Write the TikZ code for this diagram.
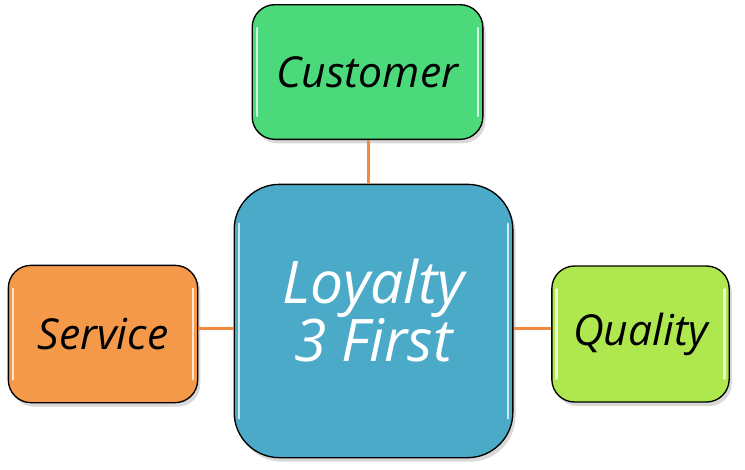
\documentclass[tikz,border=0pt]{standalone}
\usepackage{fontspec}
\setmainfont{Open Sans}
\usetikzlibrary{shadows}
\definecolor{custc}{HTML}{4CD97B}
\definecolor{hubc}{HTML}{4BAAC8}
\definecolor{servc}{HTML}{F4994A}
\definecolor{qualc}{HTML}{AEE84E}
\definecolor{linkc}{HTML}{F08A3C}

\begin{document}
\begin{tikzpicture}[x=0.75pt, y=-0.75pt,
      box/.style={draw=black, line width=1pt, rounded corners=17pt, align=center,
                  inner sep=0pt, font=\fontsize{32}{34}\selectfont\itshape,
                  drop shadow={shadow xshift=2pt, shadow yshift=-3pt, opacity=0.3}},
      hub/.style={box, rounded corners=34pt, text=white,
                  font=\fontsize{44}{43}\selectfont\itshape},
      gloss/.style={white, opacity=0.75, line width=1.8pt, line cap=round},
      link/.style={linkc, line width=2.2pt}]
    \useasboundingbox (0,0) rectangle (745,469);
    \node[box, fill=custc, minimum width=173pt, minimum height=101pt] (cust)
      at (367.5,72) {Customer};
    \node[hub, fill=hubc, minimum width=209pt, minimum height=205pt] (core)
      at (373.5,321) {Loyalty\\3 First\\[-27pt]};
    \node[box, fill=servc, minimum width=142pt, minimum height=103pt] (serv)
      at (103,334) {Service};
    \node[box, fill=qualc, minimum width=133pt, minimum height=102pt] (qual)
      at (640.5,334) {Quality};
    % glossy edges
    \draw[gloss] ([xshift=4pt, yshift=-18pt]cust.north west) -- ([xshift=4pt, yshift=18pt]cust.south west);
    \draw[gloss] ([xshift=-4pt, yshift=-18pt]cust.north east) -- ([xshift=-4pt, yshift=18pt]cust.south east);
    \draw[gloss] ([xshift=4pt, yshift=-30pt]core.north west) -- ([xshift=4pt, yshift=30pt]core.south west);
    \draw[gloss] ([xshift=-4pt, yshift=-30pt]core.north east) -- ([xshift=-4pt, yshift=30pt]core.south east);
    \draw[gloss] ([xshift=4pt, yshift=-18pt]serv.north west) -- ([xshift=4pt, yshift=18pt]serv.south west);
    \draw[gloss] ([xshift=-4pt, yshift=-18pt]serv.north east) -- ([xshift=-4pt, yshift=18pt]serv.south east);
    \draw[gloss] ([xshift=4pt, yshift=-18pt]qual.north west) -- ([xshift=4pt, yshift=18pt]qual.south west);
    \draw[gloss] ([xshift=-4pt, yshift=-18pt]qual.north east) -- ([xshift=-4pt, yshift=18pt]qual.south east);
    % links
    \draw[link] ([xshift=1pt]cust.south) -- ([xshift=1pt]cust.south |- core.north);
    \draw[link] ([yshift=4pt]serv.east) -- ([yshift=4pt]serv.east -| core.west);
    \draw[link] ([yshift=4pt]qual.west) -- ([yshift=4pt]qual.west -| core.east);
  \end{tikzpicture}
\end{document}
